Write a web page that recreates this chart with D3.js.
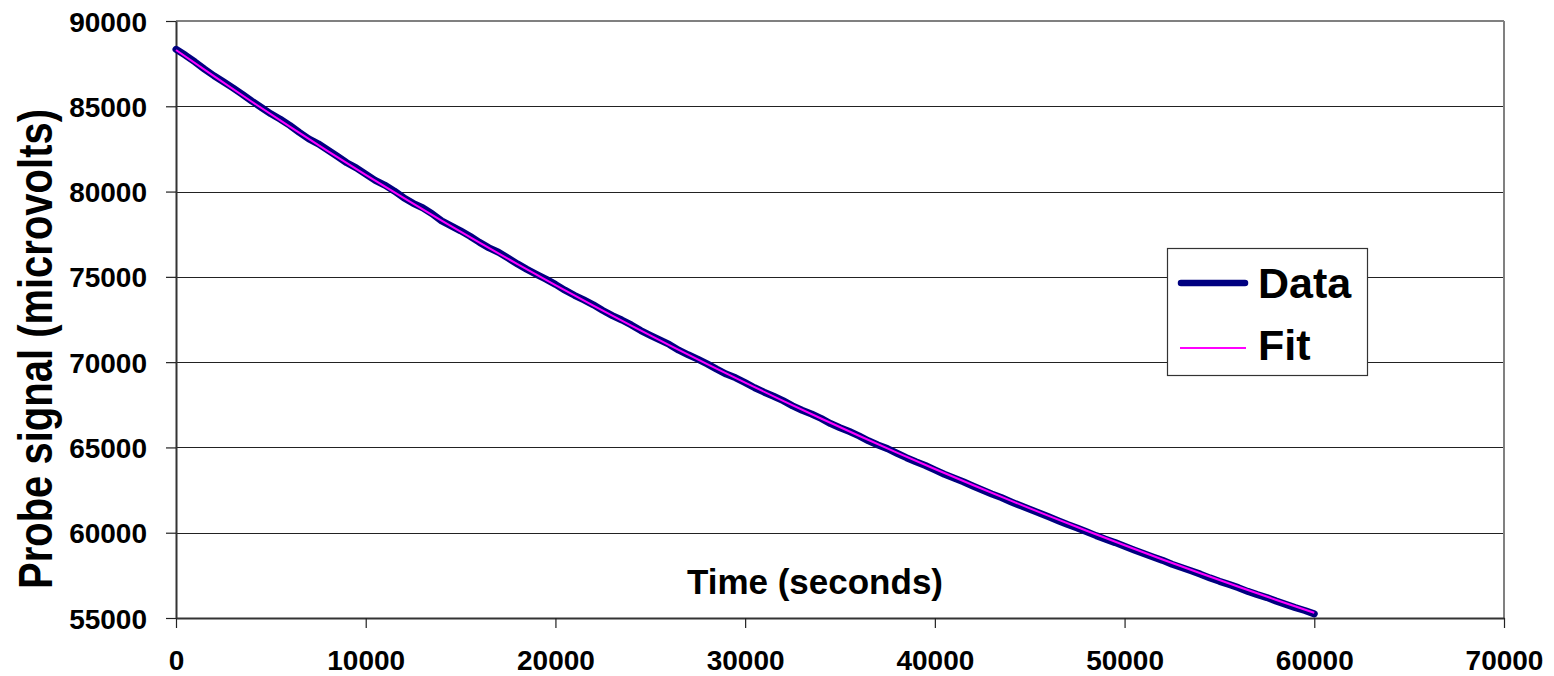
<!DOCTYPE html>
<html>
<head>
<meta charset="utf-8">
<script src="https://cdn.jsdelivr.net/npm/d3@7"></script>
<style>
  html, body { margin: 0; padding: 0; background: #ffffff; }
  svg { display: block; }
  text { font-family: "Liberation Sans", Arial, sans-serif; font-weight: bold; fill: #000; }
</style>
</head>
<body>
<svg id="chart" width="1554" height="676"></svg>
<script>
// Probe signal readings, one every 500 s (seconds)
const dataTime = [
  0, 500, 1000, 1500, 2000, 2500, 3000, 3500, 4000, 4500,
  5000, 5500, 6000, 6500, 7000, 7500, 8000, 8500, 9000, 9500,
  10000, 10500, 11000, 11500, 12000, 12500, 13000, 13500, 14000, 14500,
  15000, 15500, 16000, 16500, 17000, 17500, 18000, 18500, 19000, 19500,
  20000, 20500, 21000, 21500, 22000, 22500, 23000, 23500, 24000, 24500,
  25000, 25500, 26000, 26500, 27000, 27500, 28000, 28500, 29000, 29500,
  30000, 30500, 31000, 31500, 32000, 32500, 33000, 33500, 34000, 34500,
  35000, 35500, 36000, 36500, 37000, 37500, 38000, 38500, 39000, 39500,
  40000, 40500, 41000, 41500, 42000, 42500, 43000, 43500, 44000, 44500,
  45000, 45500, 46000, 46500, 47000, 47500, 48000, 48500, 49000, 49500,
  50000, 50500, 51000, 51500, 52000, 52500, 53000, 53500, 54000, 54500,
  55000, 55500, 56000, 56500, 57000, 57500, 58000, 58500, 59000, 59500,
  60000
];
// Measured signal (microvolts)
const dataSignal = [
  88340, 87990, 87600, 87180, 86790, 86440, 86080, 85700, 85300, 84930,
  84560, 84240, 83880, 83470, 83090, 82800, 82440, 82070, 81690, 81390,
  81020, 80660, 80380, 80040, 79640, 79310, 79050, 78700, 78280, 77990,
  77700, 77380, 77020, 76700, 76440, 76100, 75760, 75440, 75150, 74870,
  74560, 74220, 73920, 73650, 73360, 73030, 72730, 72470, 72180, 71850,
  71570, 71300, 71040, 70700, 70430, 70180, 69900, 69590, 69300, 69080,
  68800, 68500, 68240, 68000, 67740, 67440, 67180, 66960, 66700, 66400,
  66150, 65930, 65680, 65390, 65140, 64930, 64660, 64400, 64160, 63940,
  63680, 63430, 63210, 62990, 62740, 62500, 62270, 62060, 61820, 61590,
  61370, 61160, 60930, 60700, 60480, 60280, 60060, 59830, 59620, 59420,
  59200, 58990, 58780, 58580, 58380, 58150, 57960, 57770, 57570, 57350,
  57150, 56970, 56780, 56560, 56370, 56200, 55990, 55800, 55610, 55440,
  55240
];
// Fitted curve, sampled every 2000 s
const fitTime = [
  0, 2000, 4000, 6000, 8000, 10000, 12000, 14000, 16000, 18000,
  20000, 22000, 24000, 26000, 28000, 30000, 32000, 34000, 36000, 38000,
  40000, 42000, 44000, 46000, 48000, 50000, 52000, 54000, 56000, 58000,
  60000
];
const fitSignal = [
  88300, 86764, 85265, 83803, 82376, 80984, 79625, 78300, 77007, 75745,
  74515, 73313, 72141, 70998, 69882, 68794, 67732, 66695, 65684, 64697,
  63735, 62796, 61879, 60985, 60113, 59262, 58431, 57621, 56831, 56059,
  55307
];
const xTicks = [0, 10000, 20000, 30000, 40000, 50000, 60000, 70000];
const yTicks = [55000, 60000, 65000, 70000, 75000, 80000, 85000, 90000];
const seriesNames = ["Data", "Fit"];

const svg = d3.select("#chart");
const plotLeft = 176, plotRight = 1504, plotTop = 21, plotBottom = 618;

const x = d3.scaleLinear().domain([0, 70000]).range([plotLeft, plotRight]);
const y = d3.scaleLinear().domain([55000, 90000]).range([plotBottom, plotTop]);

// horizontal gridlines
svg.append("g")
  .selectAll("line")
  .data(yTicks.filter(v => v > 55000 && v < 90000))
  .join("line")
  .attr("x1", plotLeft).attr("x2", plotRight)
  .attr("y1", d => Math.round(y(d)) + 0.5).attr("y2", d => Math.round(y(d)) + 0.5)
  .attr("stroke", "#222").attr("stroke-width", 1.2);

// top and right frame
svg.append("line").attr("x1", plotLeft).attr("x2", plotRight).attr("y1", plotTop).attr("y2", plotTop)
  .attr("stroke", "#808080").attr("stroke-width", 2);
svg.append("line").attr("x1", plotRight).attr("x2", plotRight).attr("y1", plotTop).attr("y2", plotBottom)
  .attr("stroke", "#808080").attr("stroke-width", 2);

// axes
const xAxis = d3.axisBottom(x).tickValues(xTicks).tickSize(10).tickSizeOuter(0).tickFormat(d3.format("d"));
const yAxis = d3.axisLeft(y).tickValues(yTicks).tickSize(10).tickSizeOuter(0).tickFormat(d3.format("d"));

const gx = svg.append("g").attr("transform", `translate(0,${plotBottom})`).call(xAxis);
gx.select(".domain").attr("stroke", "#333").attr("stroke-width", 2);
gx.selectAll(".tick line").attr("stroke", "#222").attr("stroke-width", 1.2);
gx.selectAll(".tick text")
  .attr("y", 32).attr("dy", "0.71em")
  .style("font-size", "28px").style("font-family", "'Liberation Sans', Arial, sans-serif")
  .style("font-weight", "bold").attr("fill", "#000");

const gy = svg.append("g").attr("transform", `translate(${plotLeft},0)`).call(yAxis);
gy.select(".domain").attr("stroke", "#333").attr("stroke-width", 2);
gy.selectAll(".tick line").attr("stroke", "#222").attr("stroke-width", 1.2);
gy.selectAll(".tick text")
  .attr("x", -29).attr("dy", "0.36em")
  .style("font-size", "28px").style("font-family", "'Liberation Sans', Arial, sans-serif")
  .style("font-weight", "bold").attr("fill", "#000");

// series
const dataPts = dataTime.map((t, i) => [t, dataSignal[i]]);
const fitPts = fitTime.map((t, i) => [t, fitSignal[i]]);
const line = d3.line().x(d => x(d[0])).y(d => y(d[1]));

svg.append("path").datum(dataPts)
  .attr("d", line)
  .attr("fill", "none").attr("stroke", "#000080").attr("stroke-width", 7)
  .attr("stroke-linejoin", "round").attr("stroke-linecap", "round");

svg.append("path").datum(fitPts)
  .attr("d", d3.line().x(d => x(d[0])).y(d => y(d[1])).curve(d3.curveMonotoneX))
  .attr("fill", "none").attr("stroke", "#ff00ff").attr("stroke-width", 2);

// axis titles
svg.append("text")
  .attr("x", 943).attr("y", 594)
  .attr("text-anchor", "end")
  .style("font-size", "35px")
  .text("Time (seconds)");

svg.append("text")
  .attr("transform", "translate(52,349) rotate(-90) scale(1,1.2)")
  .attr("text-anchor", "middle")
  .style("font-size", "40px")
  .text("Probe signal (microvolts)");

// legend
const lg = svg.append("g");
lg.append("rect")
  .attr("x", 1167.5).attr("y", 248.5).attr("width", 200).attr("height", 127)
  .attr("fill", "#fff").attr("stroke", "#333").attr("stroke-width", 1.2);
lg.append("line").attr("x1", 1181).attr("x2", 1245).attr("y1", 283).attr("y2", 283)
  .attr("stroke", "#000080").attr("stroke-width", 6.5).attr("stroke-linecap", "round");
lg.append("line").attr("x1", 1180).attr("x2", 1246).attr("y1", 348).attr("y2", 348)
  .attr("stroke", "#ff00ff").attr("stroke-width", 2);
lg.append("text").attr("x", 1258).attr("y", 298).style("font-size", "43px").text(seriesNames[0]);
lg.append("text").attr("x", 1258).attr("y", 360).style("font-size", "43px").text(seriesNames[1]);
</script>
</body>
</html>
